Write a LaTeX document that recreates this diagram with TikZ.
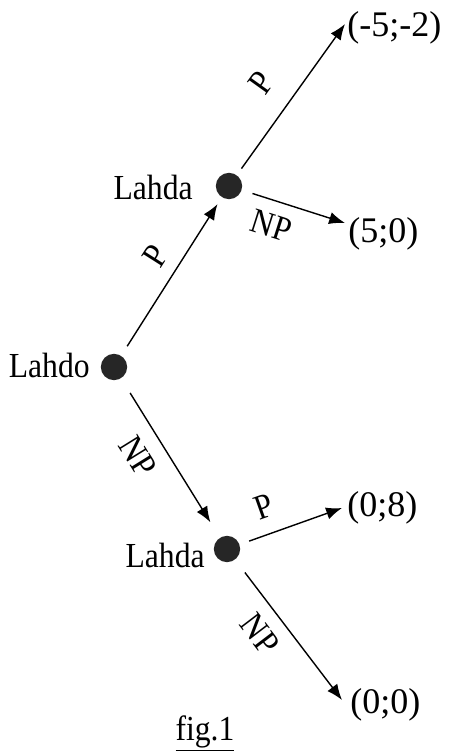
\documentclass[tikz,border=0pt]{standalone}
\usepackage{fontspec}
\setmainfont{Liberation Serif}
\newfontfamily\wordfont[FakeStretch=0.9]{Liberation Serif}
\usetikzlibrary{arrows.meta}
\begin{document}
\begin{tikzpicture}[x=0.02cm,y=-0.02cm,
  dot/.style={circle,fill=black!85,draw=none,minimum size=15pt,inner sep=0pt},
  word/.style={font=\wordfont\fontsize{20}{24}\selectfont,inner sep=0pt},
  leaf/.style={font=\fontsize{20.5}{24}\selectfont,inner sep=0pt,anchor=west},
  lab/.style={font=\wordfont\fontsize{20}{24}\selectfont,inner sep=0pt,sloped},
  edge/.style={line width=0.8pt,-{Latex[length=9pt,width=7pt]}}
]
\useasboundingbox (0,0) rectangle (449,751);
\node[dot] (L0) at (114,367) {};
\node[dot] (L1) at (229,186) {};
\node[dot] (L2) at (227,549) {};
\node[word,anchor=base east] (t0) at (90,377) {Lahdo};
\node[word,anchor=base east] (t1) at (193,199) {Lahda};
\node[word,anchor=base east] (t2) at (205,567) {Lahda};
\node[leaf] (m1) at (347,28) {(-5;-2)};
\node[leaf] (m2) at (348,234) {(5;0)};
\node[leaf] (m3) at (347,508) {(0;8)};
\node[leaf] (m4) at (350,705) {(0;0)};
\node[word,anchor=base] (fig) at (205,740) {\underline{fig.1}};
\draw[edge, shorten <=6.3pt, shorten >=4.5pt] (L0) -- node[lab,pos=0.55,above=7pt]{P} (L1);
\draw[edge, shorten <=9.7pt, shorten >=10.2pt] (L0) -- node[lab,pos=0.4,below=8.5pt]{NP} (L2);
\draw[edge, shorten <=4.5pt] (L1) -- node[lab,pos=0.48,above=12pt]{P} ([shift={(-2,-4)}]m1.west);
\draw[edge, shorten <=6.3pt] (L1) -- node[lab,pos=0.36,below=7pt]{NP} ([shift={(-3,-11)}]m2.west);
\draw[edge, shorten <=5.7pt] (L2) -- node[lab,pos=0.33,above=8.5pt]{P} ([shift={(-5,0)}]m3.west);
\draw[edge, shorten <=9.1pt] (L2) -- node[lab,pos=0.42,below=7.5pt]{NP} ([shift={(-8,-5)}]m4.west);
\end{tikzpicture}
\end{document}
